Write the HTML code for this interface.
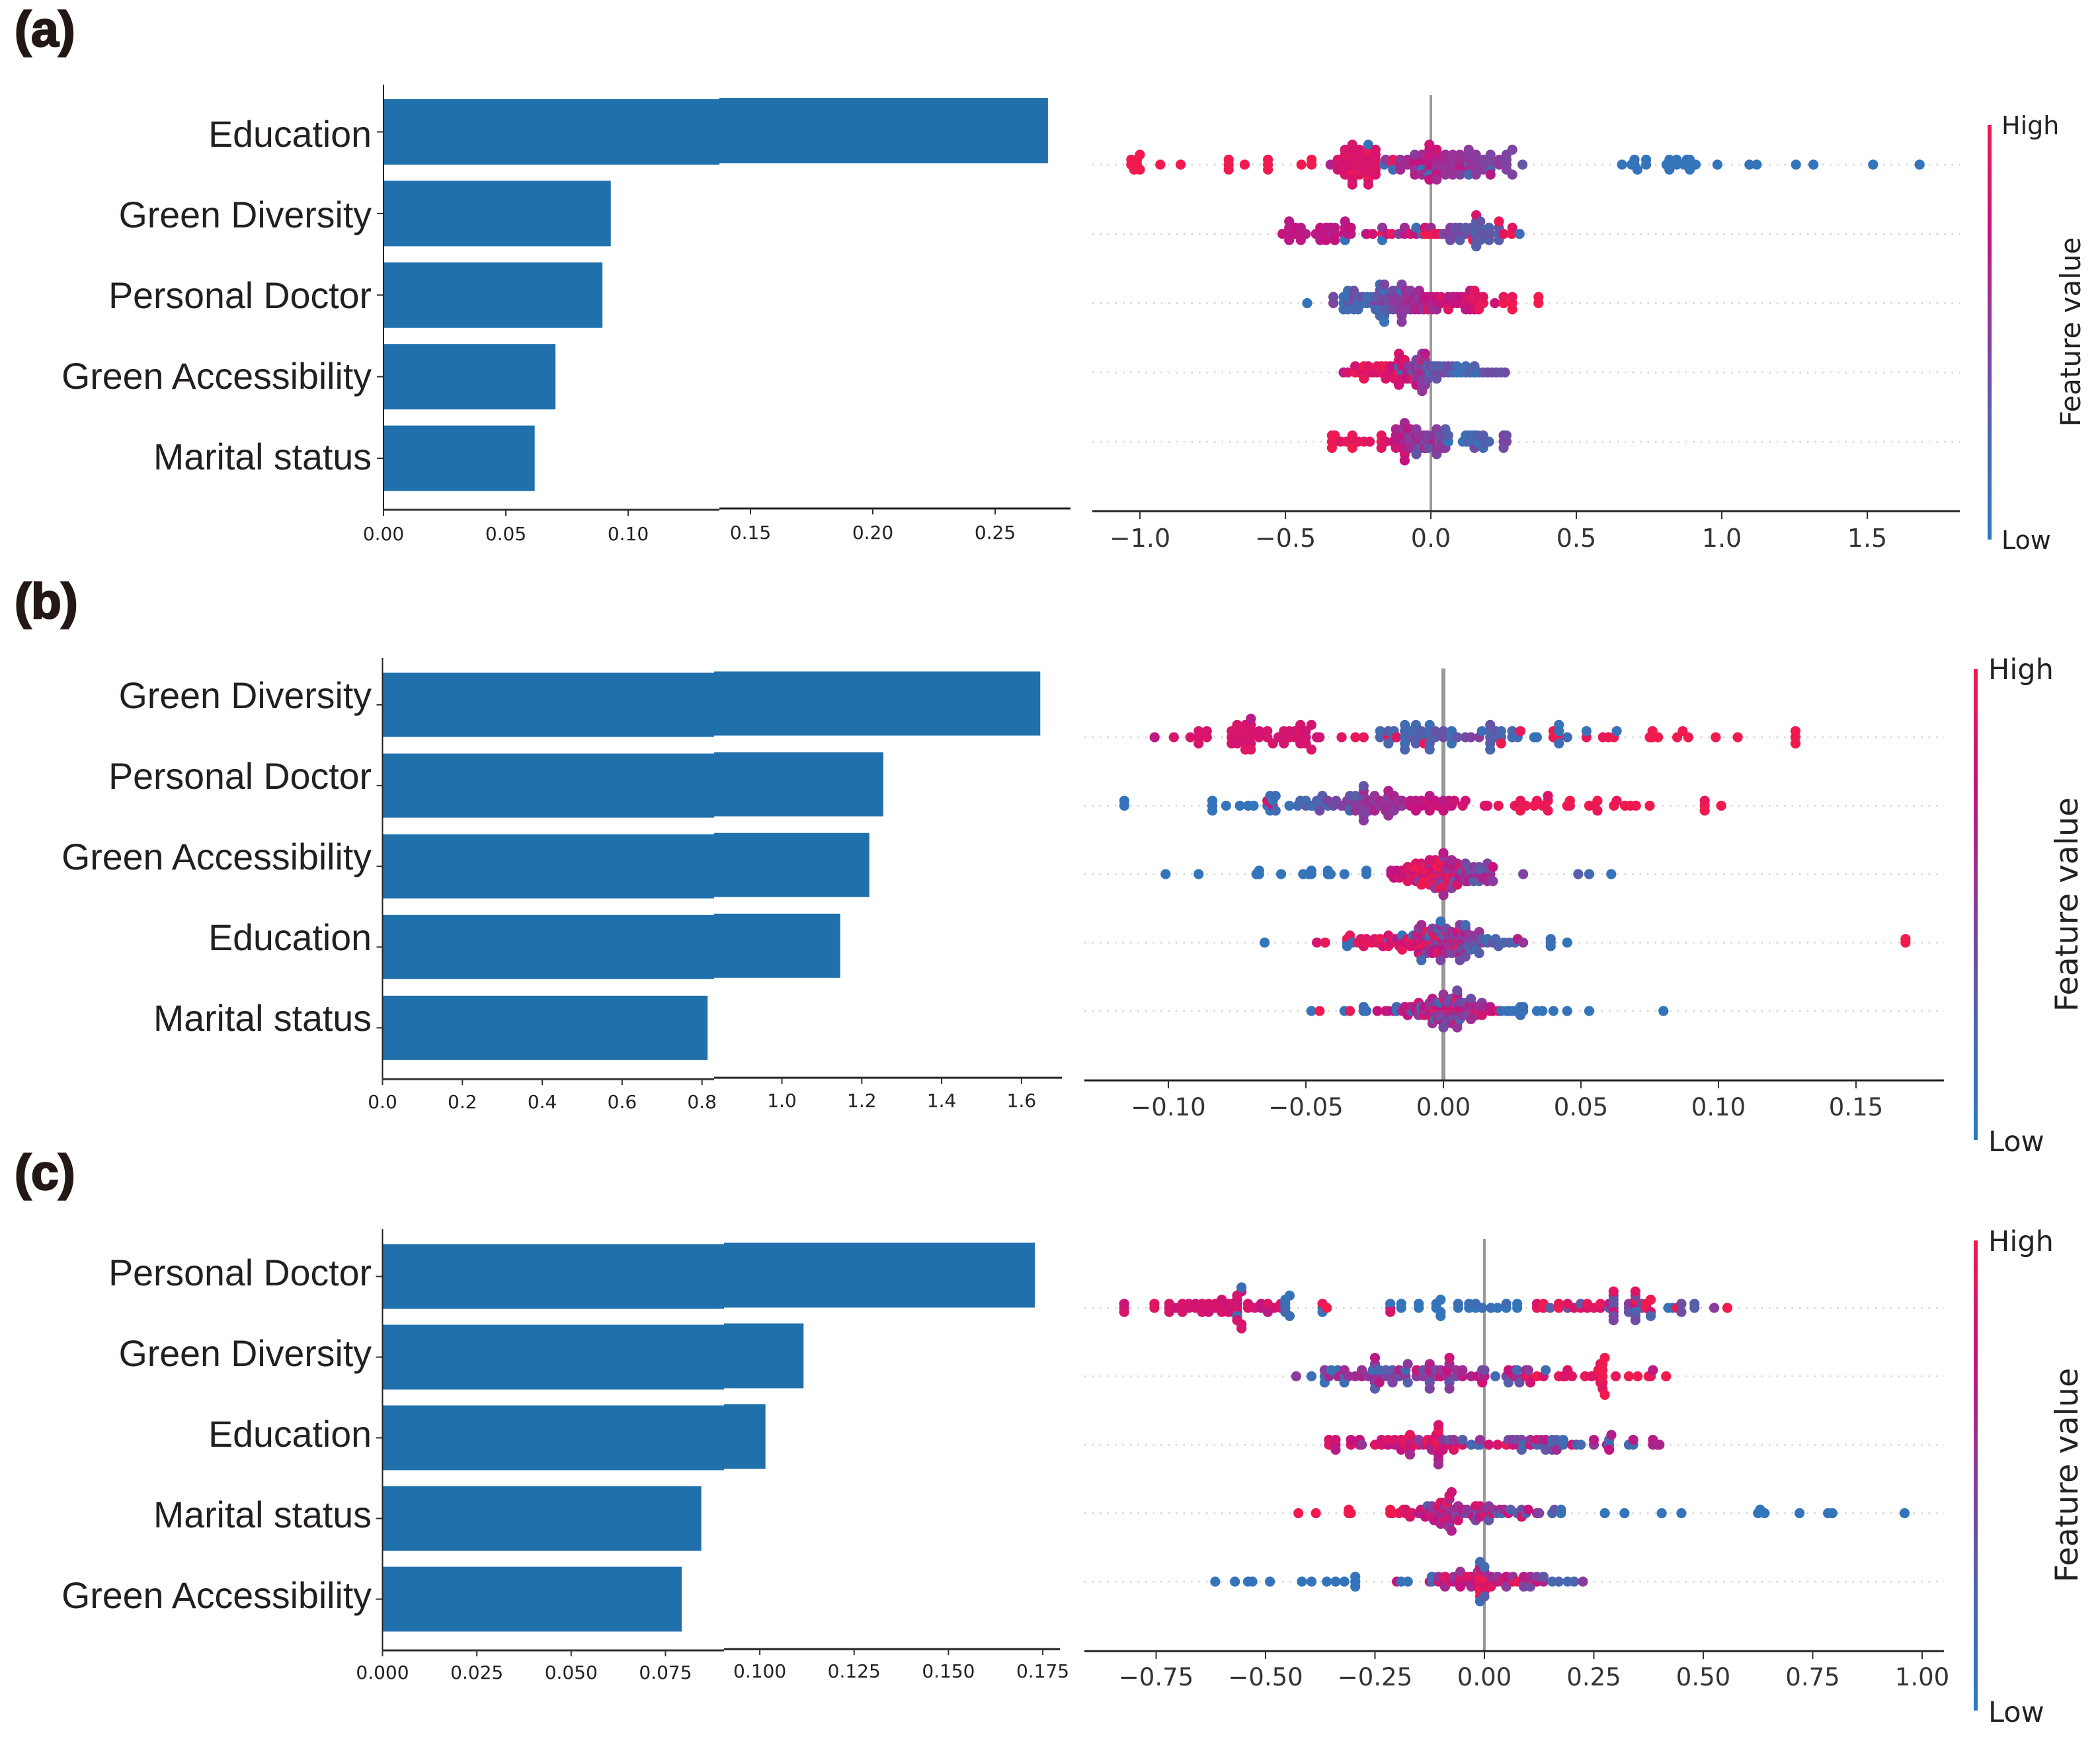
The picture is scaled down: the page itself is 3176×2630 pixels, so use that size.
<!DOCTYPE html>
<html lang="en">
<head>
<meta charset="utf-8">
<title>SHAP feature importance panels</title>
<style>
html,body{margin:0;padding:0;background:#fff;}
svg{display:block;}
.panel-tag{font-family:"Liberation Sans",sans-serif;font-weight:700;font-size:75px;fill:#231815;stroke:#231815;stroke-width:2.5px;}
.cat{font-family:"Liberation Sans",sans-serif;font-size:55.5px;fill:#231f20;text-anchor:end;}
.tick-s{font-family:"DejaVu Sans",sans-serif;font-size:28px;fill:#222;text-anchor:middle;}
.tick-l{font-family:"DejaVu Sans",sans-serif;font-size:38px;fill:#333;text-anchor:middle;}
.cb{font-family:"DejaVu Sans",sans-serif;fill:#222;}
</style>
</head>
<body>
<svg id="fig" width="3176" height="2630" viewBox="0 0 3176 2630" xmlns="http://www.w3.org/2000/svg">
  <defs>
    <linearGradient id="cbGrad" x1="0" y1="1" x2="0" y2="0">
      <stop offset="0" stop-color="#2a7bc0"/>
      <stop offset="0.25" stop-color="#4a66ad"/>
      <stop offset="0.5" stop-color="#8a3c9e"/>
      <stop offset="0.75" stop-color="#c6127f"/>
      <stop offset="1" stop-color="#f01a4f"/>
    </linearGradient>
  </defs>
  <rect width="3176" height="2630" fill="#fff"/>
  <text class="panel-tag" x="22" y="70">(a)</text>
  <text class="panel-tag" x="22" y="935">(b)</text>
  <text class="panel-tag" x="22" y="1799">(c)</text>

  <g>
    <rect x="3006" y="189" width="6" height="627" fill="url(#cbGrad)"/>
    <text class="cb" x="3027" y="203" font-size="38">High</text>
    <text class="cb" x="3027" y="830" font-size="38">Low</text>
    <text class="cb" font-size="42" text-anchor="middle" transform="translate(3146,502) rotate(-90)">Feature value</text>
  </g>
  <g>
    <rect x="2985" y="1012" width="6" height="712" fill="url(#cbGrad)"/>
    <text class="cb" x="3007" y="1027" font-size="43">High</text>
    <text class="cb" x="3007" y="1741" font-size="43">Low</text>
    <text class="cb" font-size="47.5" text-anchor="middle" transform="translate(3142,1368) rotate(-90)">Feature value</text>
  </g>
  <g>
    <rect x="2985" y="1876" width="6" height="711" fill="url(#cbGrad)"/>
    <text class="cb" x="3007" y="1892" font-size="43">High</text>
    <text class="cb" x="3007" y="2604" font-size="43">Low</text>
    <text class="cb" font-size="47.5" text-anchor="middle" transform="translate(3142,2231) rotate(-90)">Feature value</text>
  </g>
</svg>
<script>
// ---------- bar chart data ----------
const aCategories = ["Education","Green Diversity","Personal Doctor","Green Accessibility","Marital status"];
const aImportance = [0.2716,0.0929,0.0895,0.0703,0.0618];
const aBarTicks = ["0.00","0.05","0.10","0.15","0.20","0.25"];
const aSwarmTicks = ["\u22121.0","\u22120.5","0.0","0.5","1.0","1.5"];

const bCategories = ["Green Diversity","Personal Doctor","Green Accessibility","Education","Marital status"];
const bImportance = [1.647,1.254,1.219,1.146,0.814];
const bBarTicks = ["0.0","0.2","0.4","0.6","0.8","1.0","1.2","1.4","1.6"];
const bSwarmTicks = ["\u22120.10","\u22120.05","0.00","0.05","0.10","0.15"];

const cCategories = ["Personal Doctor","Green Diversity","Education","Marital status","Green Accessibility"];
const cImportance = [0.1729,0.1116,0.1015,0.0845,0.0793];
const cBarTicks = ["0.000","0.025","0.050","0.075","0.100","0.125","0.150","0.175"];
const cSwarmTicks = ["\u22120.75","\u22120.50","\u22120.25","0.00","0.25","0.50","0.75","1.00"];

// ---------- swarm data: SHAP value + normalised feature value per dot ----------
const a0Shap = [-1.03,-1.03,-1.02,-1.01,-1.01,-1.0,-1.0,-.93,-.86,-.695,-.695,-.695,-.64,-.56,-.56,-.56,-.445,-.41,-.41,
-.345,-.32,-.32,-.32,-.295,-.295,-.295,-.295,-.295,-.295,-.27,-.27,-.27,-.27,-.27,-.27,-.27,-.27,-.27,-.245,-.245,-.245,-.245,-.245,-.245,-.215,-.215,-.215,-.215,-.215,-.215,-.215,-.215,-.215,-.19,-.19,-.19,-.19,-.19,-.19,
-.16,-.155,-.13,-.13,-.13,-.105,-.105,-.105,-.08,-.08,-.055,-.055,-.055,-.055,-.055,-.03,-.03,-.03,-.03,-.03,-.005,-.005,-.005,-.005,-.005,-.005,-.005,-.005,.02,.02,.02,.02,.02,.02,.02,.05,.05,.05,.05,.05,.075,.075,.075,.075,.075,.10,.10,.10,.10,.10,.13,.13,.13,.13,.13,.13,.155,.155,.155,.155,.155,.18,.18,.18,.205,.205,.205,.205,.205,.235,.235,.26,.26,.26,.26,.28,.28,.315,
.657,.69,.70,.70,.71,.74,.74,.81,.82,.82,.845,.845,.87,.88,.89,.89,.89,.91,.985,1.095,1.12,1.255,1.315,1.52,1.68];
const a0Feat = [1,1,1,1,1,1,1,1,1,1,1,1,1,1,1,1,1,1,1,
.65,.8,.85,.8,.85,.8,.85,.9,.85,.85,.85,.85,.85,.9,.95,.85,.85,.85,.85,.85,.85,.85,.85,.9,.85,.85,.85,.85,.85,.85,.95,.95,.1,.85,.85,.85,.9,.85,.85,.85,
.15,.5,.9,.95,.2,.7,.55,.6,.6,.6,.75,.75,.55,.5,.65,.7,.75,.1,.6,.6,.7,.7,.75,.8,.1,.7,.75,.8,.6,.6,.55,.7,.75,.8,.6,.55,.6,.55,.6,.55,.6,.55,.55,.55,.55,.7,.6,.7,.55,.5,.25,.55,.6,.5,.25,.5,.55,.5,.55,.5,.5,.45,.45,.5,.45,.45,.3,.45,.7,.55,.5,.45,.45,.45,.45,.45,.45,.35,
.08,.08,.08,.08,.08,.08,.08,.08,.08,.08,.08,.08,.08,.08,.08,.08,.08,.08,.08,.08,.08,.08,.08,.08,.08];

const a1Shap = [-.51,-.487,-.487,-.487,-.487,-.465,-.465,-.447,-.447,-.447,-.43,-.395,-.38,-.38,-.38,-.36,-.36,-.36,-.345,-.345,-.335,-.33,-.33,-.33,-.30,-.295,-.295,-.295,-.285,-.285,-.275,-.275,
-.223,-.22,-.20,-.167,-.167,-.167,-.15,-.134,-.11,-.09,-.09,-.07,-.05,-.05,-.03,-.02,-.02,-.01,0,0,.01,.02,.03,.04,.045,.05,.067,.067,.067,.085,.085,.10,.10,.10,.12,.12,.14,.14,.145,.156,.156,.156,.156,.156,.156,.17,.17,.17,.17,.18,.2,.2,.2,.205,.234,.234,.234,.234,.25,.278,.28,.305];
const a1Feat = [.75,.72,.7,.72,.7,.72,.75,.72,.7,.72,.7,.7,.72,.75,.7,.72,.7,.75,.72,.7,.55,.72,.7,.75,.75,.72,.1,.7,.7,.72,.7,.75,
.12,.75,.8,1,.55,.1,.8,.95,.5,.7,.6,.85,.7,.15,.12,1,.8,1,1,.6,1,.9,.9,.95,.12,.5,.45,.5,.4,.45,.35,.45,.4,.3,.4,.3,.4,.35,1,.25,.3,.35,.3,.3,.85,.35,.3,.3,.35,.35,.3,.25,.3,.35,.25,.35,.3,.95,.9,1,.9,.15];

const a2Shap = [-.425,-.335,-.335,-.30,-.30,-.30,-.285,-.285,-.285,-.285,-.265,-.265,-.265,-.265,-.25,-.25,-.25,-.235,-.235,-.22,-.22,-.205,-.205,-.19,-.19,-.19,-.175,-.175,-.175,-.175,-.175,-.175,-.16,-.16,-.16,-.16,-.16,-.16,-.16,-.145,-.145,-.145,-.13,-.13,-.13,-.13,-.115,-.115,-.115,-.115,-.10,-.10,-.10,-.10,-.10,-.10,-.10,-.085,-.085,-.085,-.085,-.07,-.07,-.07,-.07,-.055,-.055,-.055,-.04,-.04,-.04,-.04,-.025,-.025,-.025,-.01,-.01,-.01,.005,.005,.005,.02,.02,.02,.035,.035,.05,.06,.06,.06,.075,.075,.09,.09,.105,.105,.12,.12,.12,.135,.135,.135,.135,.15,.15,.15,.15,.165,.165,.165,.18,.18,.22,.25,.25,.28,.28,.28,.37,.37];
const a2Feat = [.08,.45,.4,.1,.12,.15,.35,.15,.2,.15,.4,.45,.2,.4,.2,.3,.2,.15,.4,.2,.2,.25,.2,.5,.3,.25,.45,.35,.12,.35,.25,.2,.5,.45,.3,.15,.2,.45,.12,.4,.35,.3,.5,.55,.4,.4,.55,.5,.45,.4,.5,.5,.55,.1,.5,.45,.5,.6,.55,.5,.6,.65,.6,.5,.5,.55,.6,.65,.6,.5,.65,.6,.65,.7,.55,.7,.75,.9,.65,.7,.6,.7,.75,.6,.75,.85,.8,.75,.7,.9,.8,.7,.75,.7,.8,.75,.85,.8,.7,.85,.9,.75,.7,.85,.95,.8,.9,.9,.85,.95,.95,.9,.8,1,.95,1,.95,1,1,1];

const a3Shap = [-.30,-.285,-.26,-.26,-.245,-.23,-.23,-.23,-.215,-.215,-.20,-.185,-.185,-.17,-.17,-.155,-.155,-.155,-.14,-.14,-.125,-.125,-.125,-.11,-.11,-.11,-.11,-.11,-.11,-.10,-.10,-.10,-.10,-.09,-.09,-.09,-.09,-.08,-.08,-.08,-.07,-.07,-.07,-.06,-.06,-.06,-.05,-.05,-.05,-.05,-.05,-.04,-.04,-.04,-.03,-.03,-.03,-.03,-.03,-.03,-.03,-.02,-.02,-.02,-.02,-.02,-.02,-.01,-.01,-.01,0,0,.01,.01,.02,.02,.02,.03,.03,.045,.045,.06,.06,.075,.075,.09,.09,.105,.12,.12,.135,.15,.15,.165,.18,.195,.21,.225,.24,.255];
const a3Feat = [.7,.85,1,.8,.9,.85,1,.95,.9,.9,.85,.85,.95,.9,.9,.85,1,.85,.85,.8,.8,.75,.9,1,.15,.9,.9,.8,.85,.2,.85,.85,.75,.2,.8,.85,.9,.7,.6,.75,.6,.5,.7,.3,.5,1,.5,.6,.45,.45,.75,.5,.4,.6,.8,.55,.5,.95,.5,.45,.55,.6,.4,.5,.55,.5,.7,.45,.15,.4,.1,.5,.4,.25,.4,.3,.35,.4,.3,.45,.3,.35,.4,.3,.4,.1,.15,.1,.2,.15,.3,.15,.3,.1,.35,.4,.4,.4,.35,.4];

const a4Shap = [-.34,-.34,-.34,-.33,-.33,-.31,-.29,-.27,-.27,-.27,-.25,-.23,-.21,-.17,-.17,-.17,-.155,-.13,-.12,-.12,-.12,-.12,-.11,-.10,-.10,-.10,-.10,-.09,-.09,-.09,-.09,-.09,-.09,-.09,-.08,-.08,-.08,-.08,-.07,-.07,-.07,-.07,-.06,-.06,-.06,-.05,-.05,-.05,-.05,-.05,-.04,-.04,-.04,-.03,-.03,-.03,-.02,-.02,-.02,-.01,-.01,-.01,.01,.01,.01,.02,.02,.02,.02,.02,.03,.03,.03,.04,.04,.04,.05,.05,.05,.05,.06,.06,.11,.12,.12,.13,.13,.14,.14,.15,.15,.15,.16,.16,.18,.18,.18,.19,.2,.25,.25,.25,.26,.26];
const a4Feat = [1,.95,1,.95,1,.9,.95,.9,.95,1,.9,.95,.9,1,.95,.9,.85,.8,.75,.7,.8,.65,.7,.75,.7,.8,.6,.55,.75,.8,.5,.85,.6,.75,.6,.55,.65,.7,.5,.45,.6,.7,.55,.5,.6,.55,.65,.5,.5,.35,.6,.55,.4,.7,.5,.3,.4,.55,.65,.5,.45,.4,.7,.5,.3,.7,.55,.6,.5,.45,.2,.4,.5,.6,.35,.55,.35,.45,.5,.3,.1,.3,.15,.1,.15,.3,.1,.12,.3,.25,.1,.4,.1,.3,.15,.3,.2,.35,.25,.4,.45,.4,.45,.4];

const b0Shap = [-.105,-.098,-.092,-.089,-.089,-.089,-.086,-.086,-.077,-.077,-.077,-.075,-.075,-.075,-.075,-.072,-.072,-.072,-.072,-.072,-.07,-.07,-.07,-.07,-.07,-.07,-.067,-.067,-.064,-.064,-.062,-.06,-.058,-.058,-.058,-.056,-.056,-.054,-.054,-.052,-.052,-.052,-.052,-.05,-.05,-.05,-.048,-.048,-.046,-.045,
-.037,-.032,-.029,-.023,-.023,-.02,-.02,-.02,-.018,-.018,-.017,-.014,-.014,-.014,-.014,-.014,-.012,-.012,-.01,-.01,-.01,-.01,-.008,-.008,-.007,-.005,-.005,-.005,-.005,-.005,-.003,-.003,0,0,.003,.003,.003,.005,.008,.01,.013,.014,.017,.017,.017,.017,.017,.019,.019,.021,.021,.021,.025,.025,.027,.028,.033,.034,
.04,.04,.042,.042,.042,.042,.045,.052,.052,.058,.06,.062,.063,.075,.076,.076,.078,.085,.087,.089,.099,.107,.128,.128,.128];
const b0Feat = [.72,.85,.85,.85,.85,.85,.85,.85,.85,.85,.85,.82,.85,.82,.85,.88,.85,.82,.85,.9,.85,.85,.82,.85,.9,.7,.85,.82,.85,.85,.85,.82,.8,.85,.82,.85,.82,.85,.8,.85,.88,.82,.85,.82,.8,.85,.82,.85,.8,.82,
.9,.95,.95,.25,.2,.9,.3,.25,.2,.25,.9,.2,.25,.15,.2,.25,.3,.2,.35,.25,.3,.2,.25,.3,.95,.25,.2,.3,.15,.25,.3,.35,.4,.35,.1,.12,.12,.35,.4,.45,.5,.15,.3,.25,.3,.35,.25,.3,.35,.25,.2,1,.2,.25,.15,.95,.1,.12,
.95,1,1,.12,.15,.1,.15,.95,.1,.95,.95,1,.1,1,1,1,1,1,1,1,1,1,1,1,1];

const b1Shap = [-.116,-.116,-.084,-.084,-.084,-.079,-.074,-.071,-.069,-.064,-.064,-.063,-.063,-.062,-.062,-.061,-.061,-.056,-.053,-.052,-.05,-.05,-.048,-.047,-.046,-.045,-.045,-.045,-.044,-.042,-.042,-.04,-.039,-.037,-.036,-.035,-.034,-.034,-.034,-.034,-.032,-.032,-.032,-.032,-.03,-.029,-.029,-.029,-.029,-.029,-.029,-.029,-.027,-.027,-.027,-.025,-.025,-.025,-.025,-.023,-.023,-.021,-.021,-.021,-.02,-.02,-.02,-.018,-.018,-.018,-.018,-.016,-.016,-.015,-.015,-.012,-.012,-.01,-.01,-.01,-.008,-.008,-.006,-.006,-.005,-.005,-.004,-.003,-.002,0,0,.002,.002,.003,.004,.007,.008,.015,.016,.02,.026,.027,.028,.028,.03,.033,.034,.036,.037,.038,.038,.038,.045,.046,.046,.053,.055,.056,.056,.062,.063,.066,.068,.07,.075,.095,.095,.095,.101];
const b1Feat = [.08,.08,.08,.08,.08,.08,.08,.08,.08,.12,.85,.1,.15,.8,.1,.2,.15,.1,.2,.25,.3,.2,.25,.15,.3,.1,.25,.4,.3,.2,.45,.4,.4,.5,.45,.5,.4,.45,.2,.35,.45,.5,.55,.3,.5,.55,.5,.4,.45,.6,.5,.35,.55,.6,.45,.6,.5,.65,.55,.5,.6,.65,.55,.6,.5,.55,.65,.6,.55,.5,.65,.6,.55,.5,.6,.75,.7,.8,.7,.75,.75,.7,.75,.8,.75,.7,.8,.75,.8,.7,.75,.8,.7,.75,.8,.85,.8,.9,.85,.95,.95,.9,.95,1,.95,1,.95,1,.95,1,.95,.85,1,.95,1,1,.95,1,.95,1,.95,1,1,1,1,1,.95,1,1];

const b2Shap = [-.101,-.089,-.068,-.067,-.067,-.059,-.051,-.049,-.048,-.048,-.042,-.042,-.041,-.036,-.028,-.028,
-.019,-.019,-.018,-.017,-.017,-.016,-.015,-.015,-.014,-.014,-.013,-.013,-.013,-.012,-.012,-.011,-.011,-.011,-.011,-.01,-.01,-.009,-.009,-.009,-.009,-.009,-.008,-.008,-.007,-.007,-.007,-.007,-.007,-.006,-.006,-.005,-.005,-.005,-.005,-.005,-.005,-.004,-.004,-.003,-.003,-.003,-.003,-.003,-.003,-.003,-.002,-.002,-.002,-.002,-.001,-.001,-.001,-.001,-.001,-.001,-.001,-.001,-.001,0,0,0,0,.001,.001,.002,.002,.002,.002,.002,.002,.002,.003,.003,.004,.004,.004,.004,.004,.005,.005,.006,.006,.006,.006,.007,.007,.008,.008,.008,.008,.009,.009,.009,.009,.009,.01,.01,.011,.011,.011,.012,.012,.013,.013,.013,.014,.014,.014,.015,.015,.015,.016,.016,.016,.017,.017,.017,.018,.018,.029,.049,.053,.061];
const b2Feat = [.08,.08,.08,.08,.08,.08,.08,.08,.08,.08,.08,.08,.08,.08,.08,.08,
.75,.7,.75,.8,.75,.85,.7,.75,.9,.8,.75,.85,.9,.6,.9,.85,.7,.9,.95,.8,.9,.7,.85,.95,1,.55,.85,.95,.6,.9,.7,.95,1,.85,.95,.7,.85,1,.6,.95,.8,.95,.85,1,.75,.6,.95,1,.85,.55,.9,.5,.95,1,.55,.85,.95,1,.6,.9,.45,1,.95,.5,.9,.7,.6,.85,.6,.8,.5,.9,.6,.95,.7,.9,.6,.45,.75,.55,.9,.7,.4,.65,.85,.6,.45,.7,.85,.55,.4,.7,.9,.5,.45,.6,.8,.5,.35,.65,.55,.35,.7,.5,.3,.6,.45,.65,.4,.3,.55,.25,.6,.5,.3,.7,.35,.6,.45,.7,.4,.6,.75,.5,.45,.3,.2,.08];

const b3Shap = [-.065,-.046,-.043,-.035,-.035,-.035,-.034,-.033,-.031,-.03,-.029,-.028,-.028,-.026,-.025,-.024,-.023,-.022,-.021,-.02,-.02,-.02,-.019,-.018,-.017,-.017,-.016,-.015,-.015,-.014,-.013,-.012,-.012,-.012,-.011,-.01,-.01,-.01,-.01,-.009,-.009,-.009,-.009,-.008,-.008,-.008,-.007,-.007,-.007,-.006,-.006,-.006,-.006,-.005,-.005,-.005,-.005,-.005,-.004,-.004,-.004,-.003,-.003,-.003,-.003,-.003,-.002,-.002,-.002,-.001,-.001,-.001,-.001,0,0,0,0,0,.001,.001,.001,.002,.002,.002,.002,.003,.003,.003,.004,.004,.004,.004,.005,.005,.005,.006,.006,.006,.006,.007,.007,.007,.007,.007,.008,.008,.008,.008,.008,.009,.009,.009,.01,.01,.011,.011,.011,.012,.012,.013,.013,.014,.014,.016,.016,.018,.019,.02,.022,.024,.026,.027,.029,.039,.039,.039,.045,.168,.168];
const b3Feat = [.06,.85,.95,.1,.95,.1,.95,.15,.95,.9,.85,.95,.9,.95,.85,.9,.95,.8,.9,.1,.95,.85,.8,.9,.95,.7,.85,.1,.95,.8,.9,.5,.95,.85,.1,.9,.95,.8,.6,.95,.85,.7,.5,.95,.6,.2,.85,.7,.95,.5,.8,.95,.4,.7,.5,.95,.1,.6,.95,.7,.5,.85,.6,.4,.95,.7,.55,.9,.3,.85,.6,.45,.1,.95,.7,.55,.3,.75,.95,.6,.4,.9,.7,.55,.5,.95,.6,.4,.8,.95,.6,.5,.95,.7,.5,.9,.7,.5,.4,.85,.7,.6,.5,.4,.75,.6,.5,.4,.2,.6,.5,.3,.55,.25,.6,.45,.35,.5,.2,.55,.3,.45,.3,.3,.15,.35,.25,.3,.25,.3,.2,.7,.55,.12,.15,.12,.08,1,1];

const b4Shap = [-.048,-.045,-.036,-.034,-.029,-.029,-.028,-.024,-.021,-.02,-.018,-.017,-.017,-.015,-.014,-.014,-.013,-.012,-.012,-.011,-.011,-.01,-.01,-.009,-.009,-.008,-.008,-.007,-.007,-.007,-.006,-.006,-.005,-.005,-.005,-.005,-.004,-.004,-.004,-.003,-.003,-.003,-.003,-.003,-.002,-.002,-.002,-.002,-.002,-.001,-.001,-.001,-.001,-.001,0,0,0,0,.001,.001,.001,.001,.001,.002,.002,.002,.002,.003,.003,.003,.003,.003,.003,.003,.004,.004,.004,.004,.004,.005,.005,.005,.005,.005,.006,.006,.006,.006,.006,.007,.007,.007,.007,.008,.008,.008,.008,.009,.009,.009,.01,.01,.01,.011,.011,.012,.012,.012,.013,.013,.014,.014,.015,.015,.017,.017,.018,.02,.021,.023,.024,.025,.026,.027,.028,.028,.029,.029,.034,.036,.04,.045,.053,.08];
const b4Feat = [.1,1,.1,.95,.15,.15,.12,.75,.85,.7,.75,.12,.2,.6,.8,.7,.75,.5,.85,.12,.6,.75,.7,.55,.8,.4,.12,.6,.7,.85,.55,.75,.95,.6,.7,.5,.95,.7,.55,1,.9,.6,.5,.15,1,.7,.55,.4,.85,.95,.75,.5,.15,.4,.95,.7,.55,.4,.95,.8,.5,.6,.4,.9,.7,.55,.4,1,.8,.65,.5,.4,.35,.6,.95,.8,.6,.5,.4,1,.85,.7,.55,.4,1,.75,.6,.5,.3,.9,.7,.55,.4,.8,.6,.5,.35,.85,.6,.4,.8,.6,.4,.9,.55,.85,.7,.6,.9,.6,.85,.5,.8,.6,.9,.7,.75,.9,.15,.12,.1,.1,.1,.1,.1,.15,.1,.15,.08,.08,.08,.08,.08,.08];

const c0Shap = [-.823,-.823,-.823,-.754,-.754,-.72,-.72,-.72,-.705,-.69,-.69,-.69,-.675,-.675,-.66,-.66,-.645,-.645,-.645,-.63,-.63,-.63,-.615,-.615,-.60,-.60,-.60,-.60,-.585,-.585,-.585,-.575,-.575,-.575,-.565,-.565,-.565,-.565,-.565,-.565,-.565,-.555,-.555,-.555,-.555,-.54,-.54,-.525,-.51,-.51,-.495,-.495,-.495,-.48,-.465,-.465,-.455,-.455,-.455,-.455,-.445,-.445,-.37,-.37,-.37,-.36,
-.215,-.215,-.215,-.19,-.19,-.15,-.15,-.11,-.11,-.10,-.10,-.10,-.06,-.06,-.035,-.035,-.02,-.02,-.005,.015,.03,.05,.05,.075,.075,
.12,.12,.135,.135,.15,.17,.17,.19,.19,.205,.22,.22,.235,.235,.25,.265,.265,.285,.285,.295,.295,.295,.295,.295,.295,.295,.295,.33,.33,.33,.345,.345,.345,.345,.345,.345,.345,.345,.36,.36,.37,.37,.38,.38,.38,.42,.43,.44,.45,.45,.48,.48,.525,.555];
const c0Feat = [.8,.8,.85,.9,.9,.8,.85,.85,.8,.85,.85,.85,.8,.85,.85,.8,.85,.85,.85,.85,.85,.8,.85,.85,.85,.8,.85,.8,.8,.8,.85,.7,.85,.8,.85,.8,.85,.8,.1,.85,.85,.8,.85,.15,.85,.85,.85,.85,.7,.75,.85,.9,.7,.8,.9,.85,.15,.12,.2,.12,.15,.1,.1,.95,.1,1,
.75,.1,.85,.08,.08,.08,.08,.08,.08,.08,.08,.08,.08,.15,.08,.15,.08,.15,.15,.15,.08,.08,.15,.08,.08,
.95,.85,.95,1,.3,1,.95,.4,.9,.85,.9,.3,.85,.95,.9,.85,.95,.3,.7,.4,.35,.8,.35,.4,.35,.45,.9,.4,.5,.35,.6,.8,.15,1,.3,.4,.4,.9,.3,.4,.95,1,.85,1,.25,.1,.15,1,.4,.4,.3,.3,.5,1];

const c1Shap = [-.43,-.395,-.365,-.365,-.365,-.355,-.35,-.335,-.335,-.33,-.32,-.32,-.32,-.31,-.295,-.28,-.28,-.265,-.255,-.255,-.25,-.25,-.25,-.25,-.24,-.24,-.24,-.225,-.225,-.21,-.21,-.21,-.2,-.195,-.195,-.18,-.18,-.175,-.175,-.155,-.155,-.14,-.14,-.125,-.125,-.125,-.125,-.125,-.11,-.11,-.10,-.10,-.085,-.085,-.08,-.08,-.08,-.08,-.065,-.065,-.05,-.05,-.03,-.015,-.005,-.005,-.005,0,0,.025,.05,.055,.055,.07,.07,.075,.075,.08,.095,.095,.10,.10,.105,.12,.135,.14,.17,.18,.185,.19,.2,.23,.245,.26,.26,.265,.265,.27,.27,.27,.27,.27,.275,.275,.30,.33,.35,.375,.38,.385,.415];
const c1Feat = [.5,.12,.15,.5,.12,.6,.12,.4,.15,.7,.3,.6,.15,.55,.6,.65,.55,.5,.6,.15,.5,.45,.3,.7,.55,.2,.7,.45,.3,.5,.3,.45,.55,.35,.65,.55,.2,.3,.5,.5,.8,.5,.4,.55,.7,.35,.65,.45,.5,.4,.8,.55,.6,.75,.35,.6,.5,.8,.4,.55,.7,.6,.65,.75,.5,.45,.8,.7,.4,.2,.45,.75,.3,.85,.7,.6,.2,.35,.85,.7,.95,.5,.8,1,.85,.2,.95,.9,.85,.85,.9,.95,.9,.85,1,.9,.85,1,1,.95,1,.9,1,1,.95,1,1,1,.95,.7,1];

const c2Shap = [-.355,-.355,-.34,-.34,-.34,-.305,-.305,-.285,-.285,-.28,-.25,-.235,-.235,-.22,-.22,-.205,-.205,-.19,-.19,-.19,-.18,-.18,-.17,-.17,-.17,-.17,-.17,-.16,-.16,-.15,-.15,-.14,-.13,-.13,-.12,-.12,-.12,-.11,-.11,-.11,-.11,-.105,-.105,-.105,-.105,-.105,-.105,-.105,-.105,-.105,-.095,-.095,-.095,-.08,-.08,-.07,-.07,-.07,-.05,-.05,-.03,-.015,-.01,-.01,.01,.03,.05,.055,.065,.065,.075,.075,.085,.085,.085,.09,.105,.105,.12,.12,.13,.13,.14,.14,.14,.155,.155,.155,.165,.165,.165,.18,.18,.2,.21,.22,.25,.25,.28,.285,.285,.285,.29,.33,.34,.34,.385,.385,.395,.4];
const c2Feat = [.9,.85,.75,.8,.7,.85,.75,.7,.75,.55,.9,.85,.8,.75,.9,.7,.85,.7,.85,.75,.9,.95,.7,.65,.8,.95,.6,.85,.9,.9,.5,.6,.85,.95,.7,.85,.6,.9,.95,.7,.8,.95,1,.9,.85,.75,.95,.7,.85,.6,.9,.55,.8,.85,.3,.75,.55,.9,.85,.3,.2,.3,.2,.55,.8,.85,.95,.4,.8,.5,.7,.4,.65,.45,.3,.2,.8,.55,.25,.85,.3,.6,.2,.7,.35,.15,.25,.4,.2,.3,.6,.25,.15,.85,.35,.2,.5,.7,.7,.12,.2,.75,.65,.2,.15,.7,.65,.7,.6,.65];

const c3Shap = [-.425,-.385,-.31,-.31,-.305,-.215,-.215,-.21,-.195,-.185,-.18,-.18,-.17,-.165,-.15,-.145,-.14,-.135,-.135,-.13,-.125,-.125,-.12,-.12,-.115,-.11,-.11,-.105,-.105,-.105,-.10,-.10,-.095,-.095,-.095,-.09,-.09,-.09,-.09,-.085,-.085,-.085,-.085,-.085,-.085,-.08,-.08,-.08,-.08,-.075,-.075,-.07,-.07,-.065,-.06,-.06,-.05,-.05,-.04,-.04,-.025,-.025,-.025,-.02,-.02,-.015,-.01,-.01,-.01,0,0,.01,.01,.01,.02,.02,.03,.035,.04,.045,.055,.06,.075,.085,.085,.085,.095,.1,.12,.125,.155,.16,.175,.175,.275,.32,.405,.45,.625,.63,.64,.72,.785,.795,.96];
const c3Feat = [1,1,1,1,1,1,1,1,.95,.95,.9,.85,.85,.9,.7,.8,.65,.85,.75,.3,.8,.6,.85,.45,.7,.8,.55,.6,.85,.75,.9,.65,.7,.85,.6,.55,.85,.75,.65,.9,.7,.6,.55,.85,.95,.7,.6,.5,.85,.65,.8,.75,.55,.4,.6,.8,.5,.7,.45,.55,.4,.5,.75,.85,.45,.3,.55,.7,.85,.95,.6,.8,.5,.35,.85,.55,.3,.65,.2,.6,.8,.3,.25,.6,.4,.85,.3,.75,.65,.45,.2,.35,.1,.15,.08,.08,.08,.08,.08,.08,.08,.08,.08,.08,.08];

const c4Shap = [-.615,-.57,-.54,-.53,-.49,-.417,-.395,-.36,-.34,-.32,-.295,-.295,-.295,-.2,-.19,-.175,-.125,-.12,-.12,-.105,-.105,-.09,-.09,-.09,-.08,-.07,-.07,-.055,-.055,-.055,-.055,-.04,-.04,-.03,-.03,-.03,-.02,-.015,-.015,-.015,-.01,-.01,-.01,-.01,-.01,-.01,-.01,-.01,-.01,0,0,0,0,0,0,0,.015,.015,.015,.03,.03,.04,.05,.05,.05,.065,.065,.075,.09,.09,.09,.105,.105,.105,.12,.12,.135,.135,.155,.17,.19,.205,.225];
const c4Feat = [.08,.08,.08,.08,.08,.08,.08,.08,.08,.08,.08,.08,.08,.75,.1,.1,.75,.2,.15,.8,.55,.75,.9,.6,.85,.7,.55,.8,.85,.75,.55,.7,.9,.7,.85,.6,.75,.9,.8,.5,1,.95,.85,.95,1,.7,1,.2,.15,.95,1,.85,.6,.9,.2,.3,.85,.6,.9,.7,.55,.85,.6,.75,.5,.9,.55,.95,.6,.7,.45,.85,.6,.4,.8,.45,.65,.35,.2,.25,.2,.25,.5];

// ---------- layout (not data) ----------
const panels = [
 {key:'a', cats:aCategories, imp:aImportance, barTicks:aBarTicks, swarmTicks:aSwarmTicks,
  shap:[a0Shap,a1Shap,a2Shap,a3Shap,a4Shap], feat:[a0Feat,a1Feat,a2Feat,a3Feat,a4Feat],
  barX0:580, barScale:3700, barTop:128, barBottom:771, barRight:1619, seam:1088, seamDy:-2,
  firstBar:199.5, barStep:123.4, barH:99, tickLen:10, labelBase:222, labelStep:122, tickBase:817,
  zero:2164, swarmScale:440, axisL:1652, axisR:2964, axisY:773, zeroTop:144, zeroW:4,
  firstRow:249, rowStep:104.75, swarmBase:827, swarmFont:38},
 {key:'b', cats:bCategories, imp:bImportance, barTicks:bBarTicks, swarmTicks:bSwarmTicks,
  shap:[b0Shap,b1Shap,b2Shap,b3Shap,b4Shap], feat:[b0Feat,b1Feat,b2Feat,b3Feat,b4Feat],
  barX0:578.5, barScale:604, barTop:995, barBottom:1632, barRight:1606, seam:1080, seamDy:-2,
  firstBar:1066, barStep:122.1, barH:97, tickLen:9, labelBase:1071, labelStep:122, tickBase:1676,
  zero:2183, swarmScale:4160, axisL:1640, axisR:2940, axisY:1634, zeroTop:1011, zeroW:6,
  firstRow:1115, rowStep:103.5, swarmBase:1687, swarmFont:37},
 {key:'c', cats:cCategories, imp:cImportance, barTicks:cBarTicks, swarmTicks:cSwarmTicks,
  shap:[c0Shap,c1Shap,c2Shap,c3Shap,c4Shap], feat:[c0Feat,c1Feat,c2Feat,c3Feat,c4Feat],
  barX0:578.5, barScale:5706, barTop:1859, barBottom:2496, barRight:1603, seam:1095, seamDy:-2,
  firstBar:1930.5, barStep:122, barH:98, tickLen:10, labelBase:1944, labelStep:122, tickBase:2539,
  zero:2245, swarmScale:662, axisL:1640, axisR:2940, axisY:2497, zeroTop:1874, zeroW:4,
  firstRow:1978, rowStep:103.5, swarmBase:2549, swarmFont:37}
];

const SVGNS = 'http://www.w3.org/2000/svg';
const fig = document.getElementById('fig');
function mk(tag, attrs, parent){
  const el = document.createElementNS(SVGNS, tag);
  for (const k in attrs) el.setAttribute(k, attrs[k]);
  parent.appendChild(el);
  return el;
}
const colorStops = [[0,[42,123,192]],[.25,[74,102,173]],[.5,[138,60,158]],[.75,[198,18,127]],[1,[240,26,79]]];
function featColor(f){
  const v = Math.max(0, Math.min(1, f === undefined ? .5 : f));
  for (let i = 1; i < colorStops.length; i++){
    if (v <= colorStops[i][0]){
      const a = colorStops[i-1], b = colorStops[i];
      const t = (v - a[0]) / (b[0] - a[0]);
      const c = a[1].map((x, j) => Math.round(x + (b[1][j] - x) * t));
      return 'rgb(' + c.join(',') + ')';
    }
  }
  return 'rgb(240,26,79)';
}
// SHAP-style beeswarm: quantise into 100 bins, then alternate layers up and down
function swarmLayers(shap){
  const min = Math.min.apply(null, shap), max = Math.max.apply(null, shap);
  const quant = shap.map(v => Math.round(100 * (v - min) / (max - min + 1e-8)));
  const order = shap.map((_, i) => i).sort((p, q) => quant[p] - quant[q] || p - q);
  const ys = new Array(shap.length).fill(0);
  let layer = 0, last = -1;
  order.forEach(i => {
    if (quant[i] !== last) layer = 0;
    ys[i] = Math.ceil(layer / 2) * (layer % 2 ? 1 : -1);
    layer++;
    last = quant[i];
  });
  const top = Math.max.apply(null, ys) + 1;
  return ys.map(y => y / top);
}
function tickValue(label){ return parseFloat(label.replace('\u2212', '-')); }

panels.forEach(p => {
  const barX = v => p.barX0 + v * p.barScale;
  const swarmX = v => p.zero + v * p.swarmScale;
  const barY = i => p.firstBar + i * p.barStep;
  const rowY = i => p.firstRow + i * p.rowStep;

  const barGroup = mk('g', {}, fig);
  
  

  p.imp.forEach((v, i) => {
    const cy = barY(i), end = barX(v);
    const left = mk('rect', {x:p.barX0, y:cy - p.barH/2, width:Math.min(end, p.seam) - p.barX0, height:p.barH, fill:'#2070ac'}, barGroup);
    
    
    if (end > p.seam){
      const right = mk('rect', {x:p.seam, y:cy - p.barH/2 + p.seamDy, width:end - p.seam, height:p.barH, fill:'#2070ac'}, barGroup);
      
      
    }
    const tick = mk('line', {x1:p.barX0 - p.tickLen, x2:p.barX0, y1:cy, y2:cy, stroke:'#333', 'stroke-width':2}, barGroup);
    
    
    const lab = mk('text', {class:'cat', x:562, y:p.labelBase + i * p.labelStep}, barGroup);
    lab.textContent = p.cats[i];
    
    
  });

  const yAxis = mk('line', {x1:p.barX0, x2:p.barX0, y1:p.barTop, y2:p.barBottom + 1, stroke:'#222', 'stroke-width':2}, barGroup);
  
  
  const xAxisL = mk('line', {x1:p.barX0, x2:p.seam, y1:p.barBottom, y2:p.barBottom, stroke:'#333', 'stroke-width':3}, barGroup);
  
  
  const xAxisR = mk('line', {x1:p.seam, x2:p.barRight, y1:p.barBottom + p.seamDy, y2:p.barBottom + p.seamDy, stroke:'#222', 'stroke-width':3}, barGroup);
  
  

  p.barTicks.forEach(t => {
    const x = barX(tickValue(t));
    const dy = x > p.seam ? p.seamDy : 0;
    const tk = mk('line', {x1:x, x2:x, y1:p.barBottom + dy, y2:p.barBottom + dy + 9, stroke:'#333', 'stroke-width':2}, barGroup);
    
    
    const tl = mk('text', {class:'tick-s', x:x, y:p.tickBase + dy}, barGroup);
    tl.textContent = t;
    
    
  });

  const swarmGroup = mk('g', {}, fig);
  
  

  p.shap.forEach((_, i) => {
    const dots = mk('line', {x1:p.axisL, x2:p.axisR, y1:rowY(i), y2:rowY(i), stroke:'#d4d4d4', 'stroke-width':2.5, 'stroke-dasharray':'2.5 9'}, swarmGroup);
    
    
  });

  const zero = mk('line', {x1:p.zero, x2:p.zero, y1:p.zeroTop, y2:p.axisY, stroke:'#999', 'stroke-width':p.zeroW}, swarmGroup);
  
  

  p.shap.forEach((vals, i) => {
    const rowBand = 0.36 * p.rowStep;
    const layers = swarmLayers(vals);
    const feats = p.feat[i];
    vals.forEach((v, j) => {
      const c = mk('circle', {cx:swarmX(v), cy:rowY(i) - layers[j] * rowBand, r:7.6, fill:featColor(feats[j])}, swarmGroup);
      
      
    });
  });

  const axis = mk('line', {x1:p.axisL, x2:p.axisR, y1:p.axisY, y2:p.axisY, stroke:'#222', 'stroke-width':3}, swarmGroup);
  
  
  p.swarmTicks.forEach(t => {
    const x = swarmX(tickValue(t));
    const tk = mk('line', {x1:x, x2:x, y1:p.axisY, y2:p.axisY + 12, stroke:'#333', 'stroke-width':2}, swarmGroup);
    
    
    const tl = mk('text', {class:'tick-l', x:x, y:p.swarmBase, style:'font-size:' + p.swarmFont + 'px'}, swarmGroup);
    tl.textContent = t;
    
    
  });
});
</script>
</body>
</html>
